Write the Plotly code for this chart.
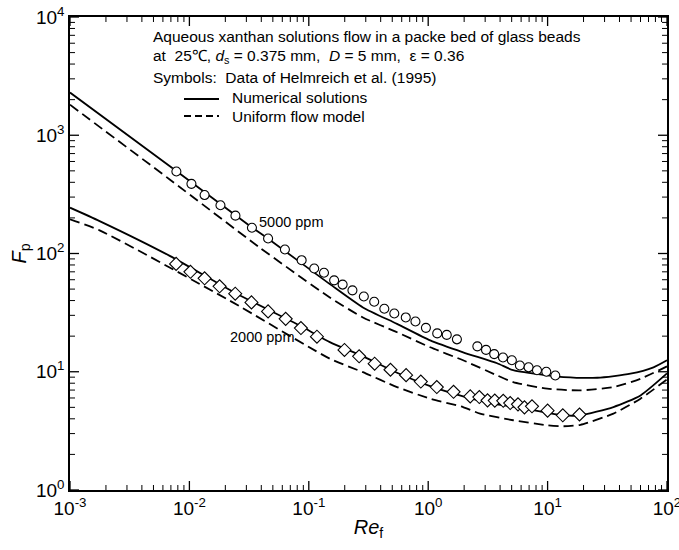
import math
import plotly.graph_objects as go

# ---------------- data ----------------
# 5000 ppm experimental data (circles)
re_5000 = [0.00778, 0.0104, 0.0134, 0.0182, 0.0243, 0.0334, 0.0456, 0.0631, 0.0871, 0.111,
           0.134, 0.163, 0.192, 0.232, 0.289, 0.353, 0.429, 0.520, 0.649, 0.782,
           0.957, 1.19, 1.43, 1.74, 2.58, 3.05, 3.57, 4.23, 5.02, 5.86,
           6.93, 8.15, 9.75, 11.6]
fp_5000 = [494, 388, 312, 256, 209, 165, 134, 108, 87.8, 74.6,
           68.7, 59.3, 54.6, 48.8, 43.3, 39.1, 34.1, 31.1, 28.8, 26.6,
           23.5, 21.1, 20.5, 18.8, 16.4, 15.3, 14.1, 13.2, 12.5, 11.3,
           10.9, 10.3, 10.0, 9.3]

# 2000 ppm experimental data (diamonds)
re_2000 = [0.00774, 0.0102, 0.0134, 0.0179, 0.0242, 0.0331, 0.0456, 0.0640, 0.0859, 0.117,
           0.199, 0.264, 0.356, 0.483, 0.653, 0.867, 1.18, 1.63, 2.25, 2.68,
           3.14, 3.61, 4.25, 4.86, 5.65, 6.40, 7.40, 10.0, 13.4, 18.5]
fp_2000 = [81.7, 70.0, 61.7, 52.8, 45.7, 38.6, 32.4, 28.0, 23.4, 19.8,
           15.3, 13.5, 11.7, 10.4, 9.36, 8.26, 7.42, 6.77, 6.19, 6.11,
           5.73, 5.70, 5.68, 5.44, 5.30, 5.00, 5.10, 4.69, 4.28, 4.35]

# Numerical solutions (solid lines)
re_num_5000 = [0.001, 0.00782, 0.0334, 0.0454, 0.150, 0.284, 0.548, 1.04, 1.96, 3.78,
               5.15, 9.93, 13.6, 26.1, 49.4, 77.1, 100]
fp_num_5000 = [2297, 497, 166, 134, 55.1, 35.0, 25.4, 18.4, 14.6, 11.8,
               10.3, 9.31, 9.01, 8.90, 9.62, 10.9, 12.5]

re_num_2000 = [0.001, 0.00177, 0.00684, 0.0240, 0.0893, 0.150, 0.284, 0.548, 1.04, 1.96,
               3.78, 5.15, 9.93, 13.6, 18.8, 35.6, 60.0, 100]
fp_num_2000 = [244, 188, 95.5, 46.6, 23.8, 17.8, 13.5, 9.8, 7.55, 6.2,
               5.3, 5.08, 4.5, 4.28, 4.28, 5.03, 6.31, 9.68]

# Uniform flow model (dashed lines)
re_uni_5000 = [0.001, 0.00684, 0.0389, 0.150, 0.284, 0.548, 1.04, 1.96, 3.78, 5.15,
               9.93, 18.8, 35.6, 60.0, 100]
fp_uni_5000 = [1811, 423, 112, 42.5, 28.8, 21.6, 16.1, 12.5, 9.31, 8.18,
               7.19, 6.96, 7.42, 8.73, 11.1]

re_uni_2000 = [0.001, 0.00177, 0.0218, 0.150, 0.284, 0.548, 1.04, 1.96, 2.72, 5.15,
               9.93, 13.6, 18.8, 35.6, 60.0, 100]
fp_uni_2000 = [194.5, 157, 39.9, 12.9, 9.92, 7.42, 5.92, 5.03, 4.43, 3.89,
               3.53, 3.46, 3.56, 4.43, 5.92, 8.61]

# tick labels
x_tickvals = [1e-3, 1e-2, 1e-1, 1e0, 1e1, 1e2]
x_ticktext = ["10<sup>-3</sup>", "10<sup>-2</sup>", "10<sup>-1</sup>", "10<sup>0</sup>",
              "10<sup>1</sup>", "10<sup>2</sup>"]
y_tickvals = [1e0, 1e1, 1e2, 1e3, 1e4]
y_ticktext = ["10<sup>0</sup>", "10<sup>1</sup>", "10<sup>2</sup>", "10<sup>3</sup>",
              "10<sup>4</sup>"]
minor_mult = [2, 3, 4, 5, 6, 7, 8, 9]
x_minor = [m * d for d in x_tickvals[:-1] for m in minor_mult]
y_minor = [m * d for d in y_tickvals[:-1] for m in minor_mult]
X_RANGE = [-3, 2]
Y_RANGE = [0, 4]

# ---------------- figure ----------------
FONT = "Liberation Sans, Arial, Helvetica, sans-serif"
W, H = 679, 550
L, R, T, B = 70, 12, 17, 60
pw, ph = W - L - R, H - T - B


def px(x):
    return (x - L) / pw


def py(y):
    return (H - B - y) / ph


fig = go.Figure()

line_solid = dict(color="black", width=1.8, shape="spline", smoothing=0.6)
line_dash = dict(color="black", width=1.8, dash="10px,5px", shape="spline", smoothing=0.6)

fig.add_trace(go.Scatter(x=re_num_5000, y=fp_num_5000, mode="lines", line=line_solid, showlegend=False))
fig.add_trace(go.Scatter(x=re_uni_5000, y=fp_uni_5000, mode="lines", line=line_dash, showlegend=False))
fig.add_trace(go.Scatter(x=re_num_2000, y=fp_num_2000, mode="lines", line=line_solid, showlegend=False))
fig.add_trace(go.Scatter(x=re_uni_2000, y=fp_uni_2000, mode="lines", line=line_dash, showlegend=False))

fig.add_trace(go.Scatter(x=re_5000, y=fp_5000, mode="markers",
                         marker=dict(symbol="circle", size=9, color="white",
                                     line=dict(color="black", width=1.1)),
                         showlegend=False))
fig.add_trace(go.Scatter(x=re_2000, y=fp_2000, mode="markers",
                         marker=dict(symbol="diamond", size=10, color="white",
                                     line=dict(color="black", width=1.1)),
                         showlegend=False))

axis_major = dict(
    type="log", showgrid=False, zeroline=False, automargin=False,
    showline=True, linecolor="black", linewidth=1.5, mirror=True,
    ticks="", ticklabeloverflow="allow",
    tickfont=dict(family=FONT, size=19, color="black"),
)

fig.update_layout(
    xaxis=dict(range=X_RANGE, tickvals=x_tickvals, ticktext=x_ticktext,
               title=dict(text="<i>Re</i><sub>f</sub>", font=dict(family=FONT, size=20, color="black"),
                          standoff=2),
               **axis_major),
    yaxis=dict(range=Y_RANGE, tickvals=y_tickvals, ticktext=y_ticktext,
               title=dict(text="<i>F</i><sub>p</sub>", font=dict(family=FONT, size=20, color="black"),
                          standoff=4),
               **axis_major),
)


# inside tick marks on all four sides (positions from the axis tick lists)
def add_ticks(vals, rng, along, length, width):
    for v in vals:
        f = (math.log10(v) - rng[0]) / (rng[1] - rng[0])
        if along == "x":
            ln = length / ph
            for y0, y1 in ((0, ln), (1, 1 - ln)):
                fig.add_shape(type="line", xref="paper", yref="paper", x0=f, x1=f, y0=y0, y1=y1,
                              line=dict(color="black", width=width))
        else:
            ln = length / pw
            for x0, x1 in ((0, ln), (1, 1 - ln)):
                fig.add_shape(type="line", xref="paper", yref="paper", x0=x0, x1=x1, y0=f, y1=f,
                              line=dict(color="black", width=width))


add_ticks(x_tickvals, X_RANGE, "x", 9, 1.3)
add_ticks(x_minor, X_RANGE, "x", 5, 1.0)
add_ticks(y_tickvals, Y_RANGE, "y", 9, 1.3)
add_ticks(y_minor, Y_RANGE, "y", 5, 1.0)

annot_font = dict(family=FONT, size=15.5, color="black")
ppm_font = dict(family=FONT, size=14.5, color="black")
texts = [
    (151, 36, "Aqueous xanthan solutions flow in a packe bed of glass beads", annot_font),
    (151, 56, "at\u00a0\u00a025\u2103, <i>d</i><sub>s</sub> = 0.375 mm,\u00a0\u00a0<i>D</i> = 5 mm,\u00a0\u00a0\u03b5 = 0.36", annot_font),
    (151, 77, "Symbols:\u00a0\u00a0Data of Helmreich et al. (1995)", annot_font),
    (230, 97, "Numerical solutions", annot_font),
    (230, 117, "Uniform flow model", annot_font),
    (257, 222, "5000 ppm", ppm_font),
    (228, 337, "2000 ppm", ppm_font),
]
for x, y, t, f in texts:
    fig.add_annotation(x=px(x), y=py(y), xref="paper", yref="paper", text=t,
                       showarrow=False, xanchor="left", yanchor="middle", font=f)

fig.add_shape(type="line", xref="paper", yref="paper", x0=px(184), x1=px(219),
              y0=py(99), y1=py(99), line=dict(color="black", width=1.8))
fig.add_shape(type="line", xref="paper", yref="paper", x0=px(184), x1=px(219),
              y0=py(116), y1=py(116), line=dict(color="black", width=1.8, dash="7px,4px"))

fig.update_layout(
    width=W, height=H, margin=dict(l=L, r=R, t=T, b=B, autoexpand=False),
    paper_bgcolor="white", plot_bgcolor="white",
    font=dict(family=FONT, color="black"),
)

fig.write_html("out.html")
